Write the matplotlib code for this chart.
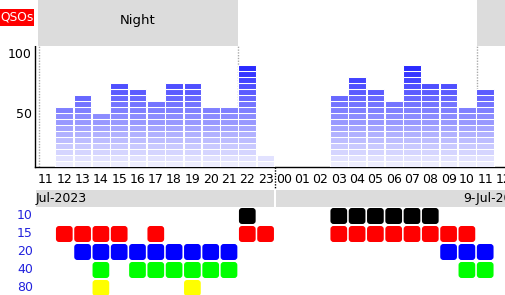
import matplotlib
matplotlib.use("Agg")
import matplotlib.pyplot as plt
from matplotlib.patches import Rectangle, FancyBboxPatch

plt.rcParams['font.family'] = ['DejaVu Sans']
plt.rcParams['font.size'] = 9

# ---- data ----
hours = ['11', '12', '13', '14', '15', '16', '17', '18', '19', '20', '21', '22', '23',
         '00', '01', '02', '03', '04', '05', '06', '07', '08', '09', '10', '11', '12']
qsos = [0, 55, 65, 50, 75, 70, 60, 75, 75, 55, 55, 90, 15,
        0, 0, 0, 65, 80, 70, 60, 90, 75, 75, 55, 70, 0]
band_names = ['10', '15', '20', '40', '80']
band_colors = ['#000000', '#ff0000', '#0000ff', '#00ff00', '#ffff00']
band_10 = [0, 0, 0, 0, 0, 0, 0, 0, 0, 0, 0, 1, 0, 0, 0, 0, 1, 1, 1, 1, 1, 1, 0, 0, 0, 0]
band_15 = [0, 1, 1, 1, 1, 0, 1, 0, 0, 0, 0, 1, 1, 0, 0, 0, 1, 1, 1, 1, 1, 1, 1, 1, 0, 0]
band_20 = [0, 0, 1, 1, 1, 1, 1, 1, 1, 1, 1, 0, 0, 0, 0, 0, 0, 0, 0, 0, 0, 0, 1, 1, 1, 0]
band_40 = [0, 0, 0, 1, 0, 1, 1, 1, 1, 1, 1, 0, 0, 0, 0, 0, 0, 0, 0, 0, 0, 0, 0, 1, 1, 0]
band_80 = [0, 0, 0, 1, 0, 0, 0, 0, 1, 0, 0, 0, 0, 0, 0, 0, 0, 0, 0, 0, 0, 0, 0, 0, 0, 0]
band_activity = [band_10, band_15, band_20, band_40, band_80]
date_left = 'Jul-2023'
date_right = '9-Jul-2023'
night_label = 'Night'
step = 5

W, H = 506, 295
fig = plt.figure(figsize=(W / 100, H / 100), dpi=100)

XL = (-0.601, 25.137)
DOT = (0, (1, 1))

# ---- bar axes ----
ax = fig.add_axes([35 / W, 1 - 167 / H, (W - 35) / W, 167 / H])
ax.set_xlim(*XL)
ax.set_ylim(5, 144.17)
TOPV = 105.83


def seg_color(k):
    c = max(0, min(255, 250 - 12.2 * k)) / 255
    return (c, c, 1.0)


for i, v in enumerate(qsos):
    nseg = v // step
    for k in range(nseg):
        ax.bar(i, step, bottom=k * step, width=0.97, color=seg_color(k),
               edgecolor='white', linewidth=0.75, zorder=3)

# night shading and boundaries
ax.add_patch(Rectangle((-0.437, TOPV), 10.927, 144.17 - TOPV, color='#dcdcdc', lw=0, zorder=1))
ax.add_patch(Rectangle((23.55, TOPV), 3, 144.17 - TOPV, color='#dcdcdc', lw=0, zorder=1))
for xv in (-0.38, 10.5, 23.55):
    ax.plot([xv, xv], [5, TOPV], color='#aaaaaa', lw=1.0, ls=DOT, zorder=2)
ax.text(5.03, 126.7, night_label, ha='center', va='center', fontsize=9.5)

ax.set_xticks(range(len(hours)))
ax.set_xticklabels(hours)
ax.set_yticks([50, 100])
ax.tick_params(axis='both', length=0)
ax.tick_params(axis='x', pad=4)
ax.tick_params(axis='y', pad=2.5)
for s in ('top', 'right'):
    ax.spines[s].set_visible(False)
for s in ('left', 'bottom'):
    ax.spines[s].set_linestyle(DOT)
    ax.spines[s].set_linewidth(1.0)
ax.spines['left'].set_bounds(5, TOPV)
ax.patch.set_alpha(0)

# ---- band axes ----
bx = fig.add_axes([35 / W, 0, (W - 35) / W, (H - 167) / H])
bx.set_xlim(*XL)
bx.set_ylim(4.389, -2.722)
bx.axis('off')

# date band
bx.add_patch(Rectangle((-0.546, -1.444), 12.46 + 0.546, 0.944, color='#dcdcdc', lw=0))
bx.add_patch(Rectangle((12.57, -1.444), 14, 0.944, color='#dcdcdc', lw=0))
bx.text(-0.546, -0.97, date_left, ha='left', va='center', fontsize=9)
bx.text(22.79, -0.97, date_right, ha='left', va='center', fontsize=9)
bx.plot([12.5, 12.5], [-2.722, -1.56], color='black', lw=1.0, ls=DOT)

cw, ch = 0.913, 0.889
for r, (name, col, act) in enumerate(zip(band_names, band_colors, band_activity)):
    bx.text(-0.71, r, name, ha='right', va='center', color='#2222dd', fontsize=9)
    for i, on in enumerate(act):
        if on:
            bx.add_patch(FancyBboxPatch((i - cw / 2, r - ch / 2), cw, ch,
                                        boxstyle='round,pad=0,rounding_size=0.17',
                                        fc=col, ec='none'))

# QSOs label
fig.patches.append(Rectangle((0, 1 - 26 / H), 34 / W, 17 / H, transform=fig.transFigure,
                             color='#ff0000', lw=0))
fig.text(0.0, 1 - 17.5 / H, 'QSOs', color='white', ha='left', va='center', fontsize=8.8)

fig.savefig('out.png', dpi=100)
